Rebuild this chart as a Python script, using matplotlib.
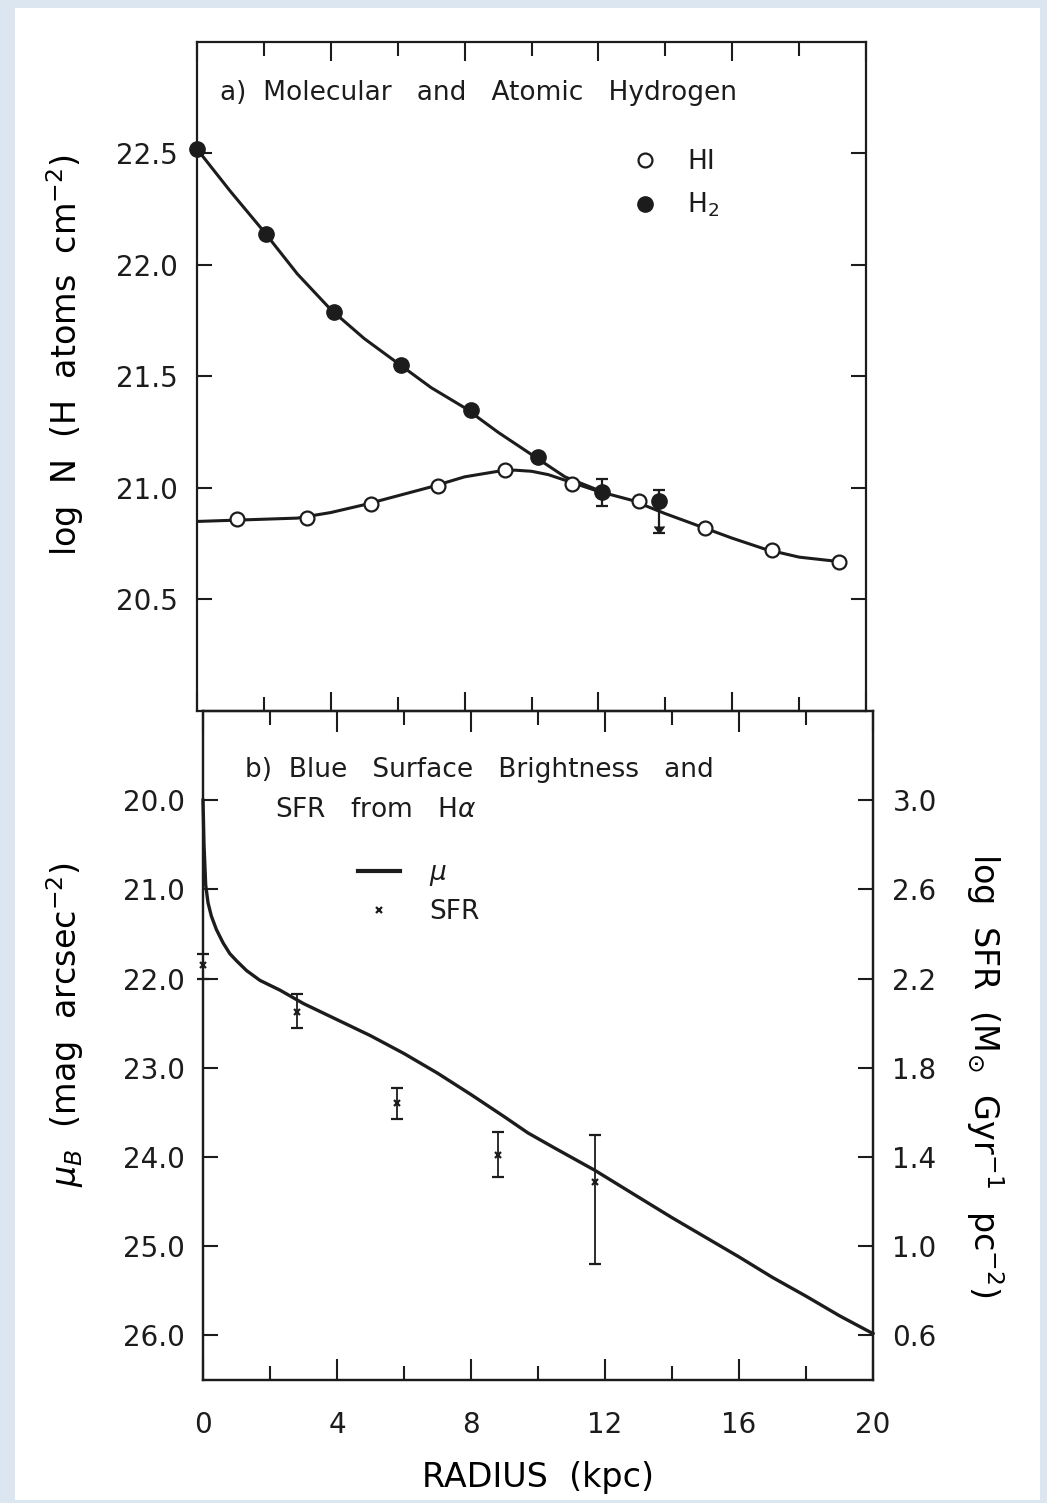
import matplotlib.pyplot as plt
from matplotlib.lines import Line2D
from matplotlib.patches import Rectangle
from matplotlib.ticker import MultipleLocator, FixedLocator

# ---- panel a: molecular and atomic hydrogen (log N, H atoms cm^-2) ----
hi_r = [1.2, 3.3, 5.2, 7.2, 9.2, 11.2, 13.2, 15.2, 17.2, 19.2]
hi_logn = [20.86, 20.865, 20.93, 21.01, 21.08, 21.02, 20.94, 20.82, 20.72, 20.67]
hi_curve_r = [0, 1, 2, 3, 4, 5, 6, 7, 8, 9, 9.5, 10, 10.5, 11, 12, 13, 14, 15, 16, 17, 18, 19.2]
hi_curve = [20.85, 20.855, 20.86, 20.865, 20.89, 20.925, 20.965, 21.005, 21.05, 21.075, 21.08,
            21.075, 21.06, 21.035, 20.985, 20.945, 20.885, 20.83, 20.775, 20.725, 20.69, 20.67]

h2_r = [0.0, 2.05, 4.1, 6.1, 8.2, 10.2, 12.1, 13.8]
h2_logn = [22.52, 22.14, 21.79, 21.55, 21.35, 21.14, 20.98, 20.94]
h2_curve_r = [0, 1, 2, 3, 4, 5, 6, 7, 8, 9, 10, 11, 12]
h2_curve = [22.52, 22.33, 22.15, 21.96, 21.80, 21.67, 21.56, 21.45, 21.36, 21.25, 21.15, 21.05, 20.99]
# error bars on the two outer H2 points, the last one is an upper limit
h2_err_r = [12.1, 13.8]
h2_err_val = [20.98, 20.94]
h2_err_lo = [0.06, 0.14]
h2_err_hi = [0.06, 0.05]
h2_upper_limit = [False, True]

# ---- panel b: blue surface brightness and SFR from H-alpha ----
mu_r = [0, 0.03, 0.08, 0.15, 0.25, 0.4, 0.6, 0.8, 1.0, 1.3, 1.7, 2.3, 3, 4, 5, 6, 7, 8, 9,
        9.7, 10.5, 11.7, 13, 14, 15, 16, 17, 18, 19, 20]
mu_b = [20.0, 20.5, 20.95, 21.15, 21.3, 21.45, 21.6, 21.72, 21.8, 21.91, 22.02, 22.13, 22.28,
        22.46, 22.64, 22.84, 23.06, 23.3, 23.55, 23.73, 23.9, 24.15, 24.45, 24.68, 24.9,
        25.12, 25.35, 25.56, 25.78, 25.98]

sfr_r = [0.0, 2.8, 5.8, 8.8, 11.7]
sfr = [2.26, 2.05, 1.64, 1.41, 1.29]
sfr_hi = [2.31, 2.13, 1.71, 1.51, 1.50]
sfr_lo = [2.20, 1.98, 1.57, 1.31, 0.92]

mu_ticks = [20.0, 21.0, 22.0, 23.0, 24.0, 25.0, 26.0]
sfr_ticks = [3.0, 2.6, 2.2, 1.8, 1.4, 1.0, 0.6]
logn_ticks = [20.5, 21.0, 21.5, 22.0, 22.5]

INK = '#1c1c1c'
W, H = 1047, 1503
plt.rcParams['font.family'] = 'DejaVu Sans'
plt.rcParams['mathtext.fontset'] = 'dejavusans'
plt.rcParams['text.color'] = INK
plt.rcParams['xtick.color'] = INK
plt.rcParams['ytick.color'] = INK
plt.rcParams['axes.edgecolor'] = INK

fig = plt.figure(figsize=(W / 100, H / 100), dpi=100, facecolor='#dce6f0')
fig.patches.append(Rectangle((15 / W, 1 - 1500 / H), 1025 / W, 1492 / H,
                             transform=fig.transFigure, facecolor='white',
                             edgecolor='none', zorder=-5))


def box(x0, y0, x1, y1):
    return [x0 / W, 1 - y1 / H, (x1 - x0) / W, (y1 - y0) / H]


ax1 = fig.add_axes(box(197, 42, 866, 711))
ax2 = fig.add_axes(box(203, 711, 873, 1380))
for a in (ax1, ax2):
    a.set_facecolor('none')
    for s in a.spines.values():
        s.set_linewidth(1.6)

# ---- panel a ----
ax1.plot(h2_curve_r, h2_curve, color=INK, lw=2.2, zorder=2)
ax1.plot(hi_curve_r, hi_curve, color=INK, lw=2.2, zorder=2)
ax1.plot(hi_r, hi_logn, 'o', ms=10, mfc='white', mec=INK, mew=1.6, zorder=3, clip_on=False)
ax1.plot(h2_r, h2_logn, 'o', ms=11, mfc=INK, mec=INK, zorder=4, clip_on=False)
ax1.errorbar(h2_err_r, h2_err_val, yerr=[h2_err_lo, h2_err_hi], fmt='none',
             ecolor=INK, elinewidth=1.6, capsize=4, capthick=1.6, zorder=4)
for r, v, lo, lim in zip(h2_err_r, h2_err_val, h2_err_lo, h2_upper_limit):
    if lim:
        ax1.plot([r], [v - lo], marker=7, ms=7, color=INK, zorder=4)

ax1.set_xlim(0, 20)
ax1.set_ylim(20.0, 23.0)
ax1.yaxis.set_major_locator(FixedLocator(logn_ticks))
ax1.xaxis.set_major_locator(MultipleLocator(4))
ax1.xaxis.set_minor_locator(MultipleLocator(2))
ax1.tick_params(axis='x', which='both', direction='in', top=True, bottom=True,
                labelbottom=False, width=1.5)
ax1.tick_params(axis='x', which='major', length=14)
ax1.tick_params(axis='x', which='minor', length=10)
ax1.tick_params(axis='y', direction='in', left=True, right=True, length=11, width=1.5,
                labelsize=20, pad=14)
ax1.set_yticklabels(['20.5', '21.0', '21.5', '22.0', '22.5'])
ax1.set_ylabel('log  N  (H  atoms  cm$^{-2}$)', fontsize=24, va='center', ha='center')
ax1.yaxis.set_label_coords(-0.197, 0.532)
ax1.text(0.034, 0.924, 'a)  Molecular   and   Atomic   Hydrogen', transform=ax1.transAxes,
         fontsize=19, va='center', ha='left')

h_hi = Line2D([], [], ls='none', marker='o', ms=10, mfc='white', mec=INK, mew=1.6)
h_h2 = Line2D([], [], ls='none', marker='o', ms=11, mfc=INK, mec=INK)
ax1.legend([h_hi, h_h2], ['HI', 'H$_2$'], loc='upper left', bbox_to_anchor=(0.650, 0.84),
           frameon=False, fontsize=19, handlelength=1.0, handletextpad=1.1,
           labelspacing=0.6, borderpad=0, borderaxespad=0)

# ---- panel b ----
ax2.plot(mu_r, mu_b, color=INK, lw=2.4, zorder=3, clip_on=False)
ax2.set_xlim(0, 20)
ax2.set_ylim(26.5, 19.0)
ax2.yaxis.set_major_locator(FixedLocator(mu_ticks))
ax2.set_yticklabels([f'{t:.1f}' for t in mu_ticks])
ax2.xaxis.set_major_locator(MultipleLocator(4))
ax2.xaxis.set_minor_locator(MultipleLocator(2))
ax2.tick_params(axis='x', which='both', direction='in', top=True, bottom=True, width=1.5,
                labelsize=20, pad=22)
ax2.tick_params(axis='x', which='major', length=15)
ax2.tick_params(axis='x', which='minor', length=10)
ax2.tick_params(axis='y', direction='in', left=True, right=False, length=11, width=1.5,
                labelsize=20, pad=13)
ax2.set_xlabel('RADIUS  (kpc)', fontsize=24, va='center')
ax2.xaxis.set_label_coords(0.5, -0.145)
ax2.set_ylabel(r'$\mu_B$  (mag  arcsec$^{-2}$)', fontsize=24, va='center', ha='center')
ax2.yaxis.set_label_coords(-0.206, 0.531)
ax2.text(0.063, 0.912, 'b)  Blue   Surface   Brightness   and', transform=ax2.transAxes,
         fontsize=19, va='center', ha='left')
ax2.text(0.107, 0.852, r'SFR   from   H$\alpha$', transform=ax2.transAxes,
         fontsize=19, va='center', ha='left')

ax3 = ax2.twinx()
ax3.set_ylim(0.4, 3.4)
sfr_err = [[s - lo for s, lo in zip(sfr, sfr_lo)], [hi - s for s, hi in zip(sfr, sfr_hi)]]
ax3.errorbar(sfr_r, sfr, yerr=sfr_err, fmt='x', ms=5, mew=1.6, color=INK, ecolor=INK,
             elinewidth=1.3, capsize=4.5, capthick=1.5, zorder=4, clip_on=False)
ax3.yaxis.set_major_locator(FixedLocator(sfr_ticks))
ax3.set_yticklabels([f'{t:.1f}' for t in sfr_ticks])
ax3.tick_params(axis='y', direction='in', length=11, width=1.5, labelsize=20, pad=14)
ax3.set_ylabel(r'log  SFR  (M$_{\odot}$  Gyr$^{-1}$  pc$^{-2}$)', fontsize=24, rotation=270,
               va='center', ha='center')
ax3.yaxis.set_label_coords(1.167, 0.456)
for s in ax3.spines.values():
    s.set_linewidth(1.6)

h_mu = Line2D([], [], color=INK, lw=3)
h_sfr = Line2D([], [], ls='none', marker='x', ms=5, mew=1.6, color=INK)
ax3.legend([h_mu, h_sfr], [r'$\mu$', 'SFR'], loc='upper left', bbox_to_anchor=(0.231, 0.777),
           frameon=False, fontsize=19, handlelength=1.6, handletextpad=1.1,
           labelspacing=0.4, borderpad=0, borderaxespad=0)

fig.savefig('out.png', dpi=100, facecolor=fig.get_facecolor())
